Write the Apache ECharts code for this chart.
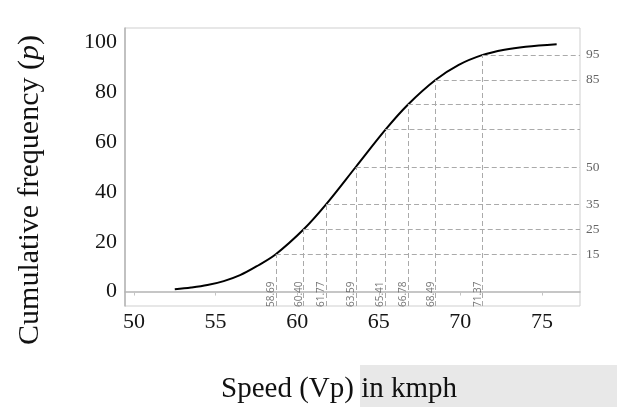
<!DOCTYPE html>
<html>
<head>
<meta charset="utf-8">
<script src="https://cdn.jsdelivr.net/npm/echarts@6/dist/echarts.min.js"></script>
<style>html,body{margin:0;padding:0;background:#fff}#c{width:617px;height:407px}</style>
</head>
<body>
<div id="c"></div>
<script>
// Cumulative frequency curve (speed in kmph, cumulative %)
var curveSpeed = [52.5, 53.5, 54.5, 55.5, 56.5, 57.5, 58.69, 60.40, 61.77, 63.59, 65.41, 66.78, 68.49, 69.9, 71.37, 72.7, 74.0, 75.9];
var curveFreq  = [0.9, 1.6, 2.6, 4.2, 6.6, 10.1, 15, 25, 35, 50, 65, 75, 85, 91.0, 95, 97.1, 98.3, 99.3];
// percentile speeds
var percentiles = [15, 25, 35, 50, 65, 75, 85, 95];
var percentileSpeeds = [58.69, 60.40, 61.77, 63.59, 65.41, 66.78, 68.49, 71.37];
var rightLabels = [15, 25, 35, 50, 85, 95];
var xTicks = [50, 55, 60, 65, 70, 75];
var yTicks = [0, 20, 40, 60, 80, 100];

var X_MIN = 49.45, X_MAX = 77.33, Y_MIN = -5.8, Y_MAX = 105.8;

var chart = echarts.init(document.getElementById('c'), null, {renderer: 'canvas'});

var curveData = curveSpeed.map(function (s, i) { return [s, curveFreq[i]]; });
var markData = [];
percentileSpeeds.forEach(function (s, i) {
  var p = percentiles[i];
  markData.push([{coord: [s, Y_MIN]}, {coord: [s, p]}]);
  markData.push([{coord: [s, p]}, {coord: [X_MAX, p]}]);
});
var labelData = percentileSpeeds.map(function (s) { return {value: [s, -5.4], name: s.toFixed(2)}; });

var serif = '"Liberation Serif", "Times New Roman", serif';

chart.setOption({
  animation: false,
  grid: {left: 125, top: 28, right: 37, bottom: 101, show: true, borderColor: '#cfcfcf', borderWidth: 1},
  xAxis: {
    type: 'value', min: X_MIN, max: X_MAX,
    splitLine: {show: false},
    axisLine: {show: true, lineStyle: {color: '#b4b4b4', width: 1.5}},
    axisTick: {show: true, customValues: xTicks, length: 4, lineStyle: {color: '#c4c4c4'}},
    axisLabel: {customValues: xTicks, fontFamily: serif, fontSize: 22, color: '#151515', margin: 5}
  },
  yAxis: [{
    type: 'value', min: Y_MIN, max: Y_MAX,
    splitLine: {show: false},
    axisLine: {show: true, lineStyle: {color: '#b4b4b4', width: 1.5}},
    axisTick: {show: false},
    axisLabel: {customValues: yTicks, fontFamily: serif, fontSize: 22, color: '#151515', margin: 8}
  }, {
    type: 'value', min: Y_MIN, max: Y_MAX, position: 'right',
    splitLine: {show: false},
    axisLine: {show: false},
    axisTick: {show: false},
    axisLabel: {customValues: rightLabels, fontFamily: serif, fontSize: 13.5, color: '#666', margin: 6}
  }],
  graphic: [
    {type: 'rect', z: -10, shape: {x: 360, y: 365, width: 257, height: 42}, style: {fill: '#e8e8e8'}},
    {type: 'text', x: 30, y: 190, rotation: Math.PI / 2,
      style: {text: 'Cumulative frequency ({i|p})', fontFamily: serif, fontSize: 30, fill: '#111',
        align: 'center', verticalAlign: 'middle',
        rich: {i: {fontFamily: serif, fontSize: 30, fontStyle: 'italic', fill: '#111'}}}},
    {type: 'text', x: 339, y: 389,
      style: {text: 'Speed (Vp) in kmph', fontFamily: serif, fontSize: 29, fill: '#111',
        align: 'center', verticalAlign: 'middle'}}
  ],
  series: [{
    type: 'line', data: [], z: 1, silent: true,
    markLine: {
      silent: true, symbol: 'none', animation: false,
      label: {show: false},
      lineStyle: {color: '#aaaaaa', width: 1, type: [5, 3]},
      data: markData
    }
  }, {
    type: 'line', data: curveData, z: 3, smooth: 0.35,
    showSymbol: false, symbol: 'none',
    lineStyle: {color: '#000', width: 2}
  }, {
    type: 'scatter', data: labelData, symbolSize: 1, z: 2, silent: true,
    itemStyle: {color: 'rgba(0,0,0,0)'},
    label: {show: true, position: 'inside', rotate: 90, align: 'left', verticalAlign: 'bottom',
      offset: [-2, 0],
      formatter: function (p) { return p.name; },
      fontFamily: '"Open Sans", sans-serif', fontSize: 10, color: '#555'}
  }]
});
</script>
</body>
</html>
